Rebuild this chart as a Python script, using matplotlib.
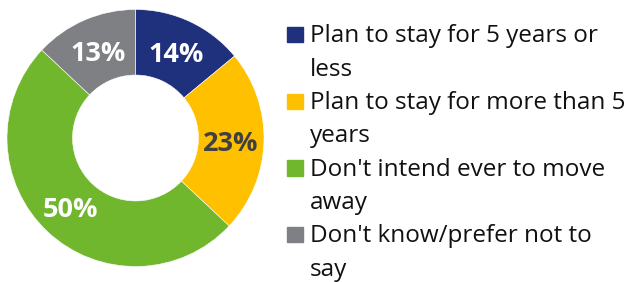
import matplotlib.pyplot as plt
from matplotlib.patches import Rectangle

# data
labels = ['Plan to stay for 5 years or\nless',
          'Plan to stay for more than 5\nyears',
          "Don't intend ever to move\naway",
          "Don't know/prefer not to\nsay"]
values = [14, 23, 50, 13]
colors = ['#1F307D', '#FFC000', '#71B72E', '#7F8083']
pct_colors = ['white', '#404040', 'white', 'white']

W, H = 627, 282
fig = plt.figure(figsize=(W / 100, H / 100), dpi=100)

# donut: centre (135.5, 138) px from top-left, radius 128.5 px
cx, cy, r = 135.5, 138.0, 128.5
ax = fig.add_axes([(cx - r) / W, (H - cy - r) / H, 2 * r / W, 2 * r / H])
wedges, texts, autotexts = ax.pie(values, colors=colors, startangle=90, counterclock=False,
                                  radius=1, autopct='%d%%', pctdistance=0.74,
                                  wedgeprops=dict(width=0.51, edgecolor='white', linewidth=0.4))
for t, c in zip(autotexts, pct_colors):
    t.set_color(c)
    t.set_fontsize(19.5)
    t.set_fontweight('bold')
    t.set_family('Open Sans')
    t.set_va('center_baseline')
ax.set_xlim(-1, 1)
ax.set_ylim(-1, 1)
ax.set_aspect('equal')
ax.axis('off')

# legend drawn by hand, one text per line, baselines 33.35 px apart
x_box, x_txt = 286.7, 310
base0, line = 42.3, 33.35
row = 0
for lab, col in zip(labels, colors):
    yb = base0 + row * line
    fig.patches.append(Rectangle((x_box / W, 1 - yb / H), 16.6 / W, 15.5 / H,
                                 transform=fig.transFigure, color=col))
    for part in lab.split('\n'):
        fig.text(x_txt / W, 1 - (base0 + row * line) / H, part, ha='left', va='baseline',
                 fontsize=17.5, family='Open Sans', color='#111111')
        row += 1

fig.savefig('out.png', dpi=100)
